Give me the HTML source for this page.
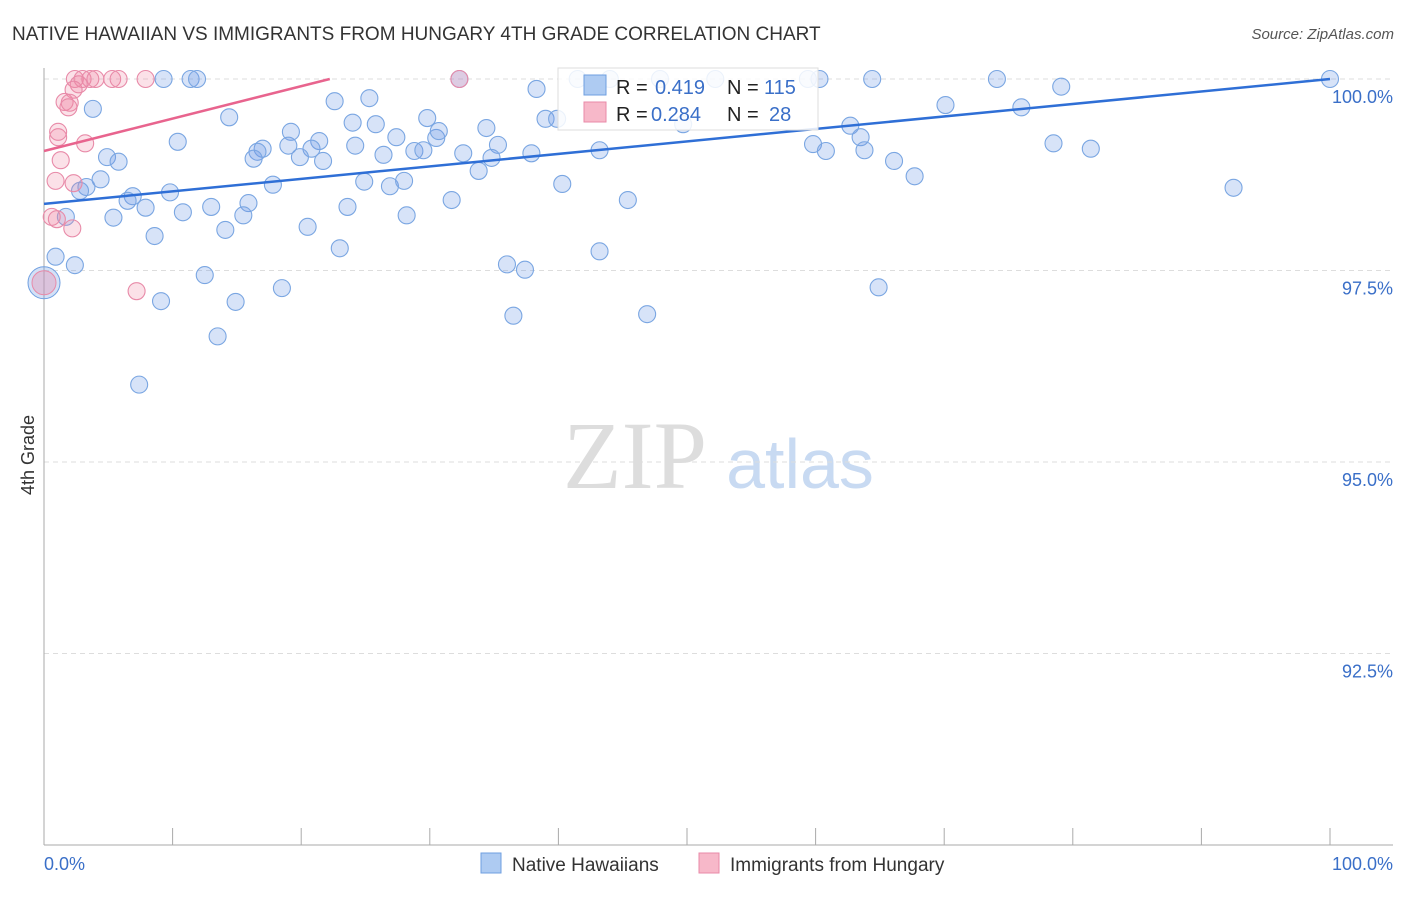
<!DOCTYPE html>
<html><head><meta charset="utf-8"><style>
body{margin:0;background:#fff;font-family:"Liberation Sans",sans-serif}
</style></head><body>
<svg id="chart" width="1406" height="892" xmlns="http://www.w3.org/2000/svg">
<text x="12" y="40" font-size="19" fill="#333">NATIVE HAWAIIAN VS IMMIGRANTS FROM HUNGARY 4TH GRADE CORRELATION CHART</text>
<text x="1394" y="39" font-size="15" fill="#555" font-style="italic" text-anchor="end">Source: ZipAtlas.com</text>
<g>
<text x="635" y="488" font-size="96" fill="#ddd" font-family="Liberation Serif,serif" text-anchor="middle">ZIP</text>
<text x="800" y="488" font-size="70" fill="#c8daf2" text-anchor="middle">atlas</text>
</g>
<g id="grid"></g>
<g id="axes"></g>
<g id="marks"></g>
<text transform="translate(34,455) rotate(-90)" font-size="18" fill="#333" text-anchor="middle">4th Grade</text>
<g>
<rect x="558" y="68" width="260" height="62" fill="#fff" fill-opacity="0.85" stroke="#ddd"/>
<rect x="584" y="75" width="22" height="20" fill="#aecbf2" stroke="#6f9fe0"/>
<rect x="584" y="102" width="22" height="20" fill="#f7b8c9" stroke="#e88aa8"/>
<text x="616" y="94" font-size="20" fill="#222">R =</text>
<text x="655" y="94" font-size="20" fill="#3a6fc8">0.419</text>
<text x="727" y="94" font-size="20" fill="#222">N =</text>
<text x="764" y="94" font-size="20" fill="#3a6fc8">115</text>
<text x="616" y="121" font-size="20" fill="#222">R =</text>
<text x="651" y="121" font-size="20" fill="#3a6fc8">0.284</text>
<text x="727" y="121" font-size="20" fill="#222">N =</text>
<text x="769" y="121" font-size="20" fill="#3a6fc8">28</text>
</g>
<g>
<rect x="481" y="853" width="20" height="20" fill="#aecbf2" stroke="#6f9fe0"/>
<text x="512" y="871" font-size="19" fill="#333">Native Hawaiians</text>
<rect x="699" y="853" width="20" height="20" fill="#f7b8c9" stroke="#e88aa8"/>
<text x="730" y="871" font-size="19" fill="#333">Immigrants from Hungary</text>
</g>
</svg>
<script>
const blueX=[9.3,11.4,11.9,41.5,44.0,47.9,52.2,59.4,60.3,64.4,74.1,100,32.3,79.1,38.3,3.8,22.6,25.3,70.1,76.0,14.4,29.8,24.0,25.8,34.4,39.0,39.9,49.7,62.7,10.4,19.2,21.4,27.4,30.5,30.7,35.3,63.5,59.8,60.8,63.8,78.5,81.4,43.2,17.0,16.6,19.0,20.8,24.2,16.3,19.9,21.7,26.4,28.8,29.5,32.6,34.8,37.9,66.1,4.9,5.8,4.4,67.7,33.8,3.3,2.8,17.8,24.9,26.9,28.0,40.3,92.5,9.8,6.9,6.5,7.9,10.8,13.0,15.9,15.5,23.6,28.2,31.7,45.4,5.4,1.7,14.1,20.5,8.6,0.9,23.0,43.2,2.4,36.0,37.4,12.5,18.5,64.9,9.1,14.9,36.5,46.9,13.5,7.4];
const blueY=[100,100,100,100,100,100,100,100,100,100,100,100,100,99.9,99.87,99.61,99.71,99.75,99.66,99.63,99.50,99.49,99.43,99.41,99.36,99.48,99.48,99.41,99.39,99.18,99.31,99.19,99.24,99.23,99.32,99.14,99.24,99.15,99.06,99.07,99.16,99.09,99.07,99.09,99.05,99.13,99.09,99.13,98.96,98.98,98.93,99.01,99.06,99.07,99.03,98.97,99.03,98.93,98.98,98.92,98.69,98.73,98.80,98.59,98.54,98.62,98.66,98.60,98.67,98.63,98.58,98.52,98.47,98.41,98.32,98.26,98.33,98.38,98.22,98.33,98.22,98.42,98.42,98.19,98.20,98.03,98.07,97.95,97.68,97.79,97.75,97.57,97.58,97.51,97.44,97.27,97.28,97.10,97.09,96.91,96.93,96.64,96.01];
const pinkX=[2.4,3.0,3.6,4.0,5.3,5.8,7.9,32.3,2.7,2.3,1.6,2.0,1.1,3.2,1.3,0.9,2.3,0.6,1.0,2.2,7.2,1.9,1.1];
const pinkY=[100,100,100,100,100,100,100,100,99.93,99.86,99.70,99.69,99.24,99.16,98.94,98.67,98.64,98.20,98.17,98.05,97.23,99.63,99.31];
const blueTrend=[98.37,100];
const pinkTrend=[99.06,0.0423];
const yTicks=[100,97.5,95,92.5];
const yTickLabels=["100.0%","97.5%","95.0%","92.5%"];
const xLabels=["0.0%","100.0%"];
const NS="http://www.w3.org/2000/svg";
const X=v=>44+v*12.86, Y=v=>79+(100-v)*76.6;
function mk(tag,attrs,parent){const e=document.createElementNS(NS,tag);for(const k in attrs)e.setAttribute(k,attrs[k]);parent.appendChild(e);return e;}
const grid=document.getElementById('grid'),axes=document.getElementById('axes'),marks=document.getElementById('marks');
yTicks.forEach((t,i)=>{
 const l=mk('line',{x1:44,x2:1393,y1:Y(t),y2:Y(t),stroke:'#ddd','stroke-dasharray':'5,4'},grid);
 
 
 const tx=mk('text',{x:1393,y:Y(t)+24,'font-size':18,fill:'#3a6fc8','text-anchor':'end'},axes);
 tx.textContent=yTickLabels[i];
 
 
});
const ax=mk('line',{x1:44,x2:44,y1:68,y2:845,stroke:'#aaa'},axes);


const bx=mk('line',{x1:44,x2:1393,y1:845,y2:845,stroke:'#aaa'},axes);


for(let i=0;i<=10;i++){const t=mk('line',{x1:X(i*10),x2:X(i*10),y1:828,y2:845,stroke:'#aaa'},axes);
 
 }
const xl0=mk('text',{x:44,y:870,'font-size':18,fill:'#3a6fc8'},axes);xl0.textContent=xLabels[0];


const xl1=mk('text',{x:1393,y:870,'font-size':18,fill:'#3a6fc8','text-anchor':'end'},axes);xl1.textContent=xLabels[1];


const big1=mk('circle',{cx:X(0),cy:Y(97.34),r:16,fill:'rgba(110,155,230,0.3)',stroke:'#6f9fe0'},marks);


const big2=mk('circle',{cx:X(0),cy:Y(97.34),r:12,fill:'rgba(235,140,170,0.35)',stroke:'#e88aa8'},marks);


blueX.forEach((v,i)=>{const c=mk('circle',{cx:X(v),cy:Y(blueY[i]),r:8.5,fill:'rgba(110,155,230,0.28)',stroke:'#7aa6e2','stroke-width':1.1},marks);
 
 });
pinkX.forEach((v,i)=>{const c=mk('circle',{cx:X(v),cy:Y(pinkY[i]),r:8.5,fill:'rgba(240,135,165,0.25)',stroke:'#e88aa8','stroke-width':1.1},marks);
 
 });
const bl=mk('line',{x1:X(0),y1:Y(blueTrend[0]),x2:X(100),y2:Y(blueTrend[1]),stroke:'#2f6fd6','stroke-width':2.5},marks);


const pEnd=(100-pinkTrend[0])/pinkTrend[1];
const pl=mk('line',{x1:X(0),y1:Y(pinkTrend[0]),x2:X(pEnd),y2:Y(100),stroke:'#e8648e','stroke-width':2.5},marks);


</script>
</body></html>
